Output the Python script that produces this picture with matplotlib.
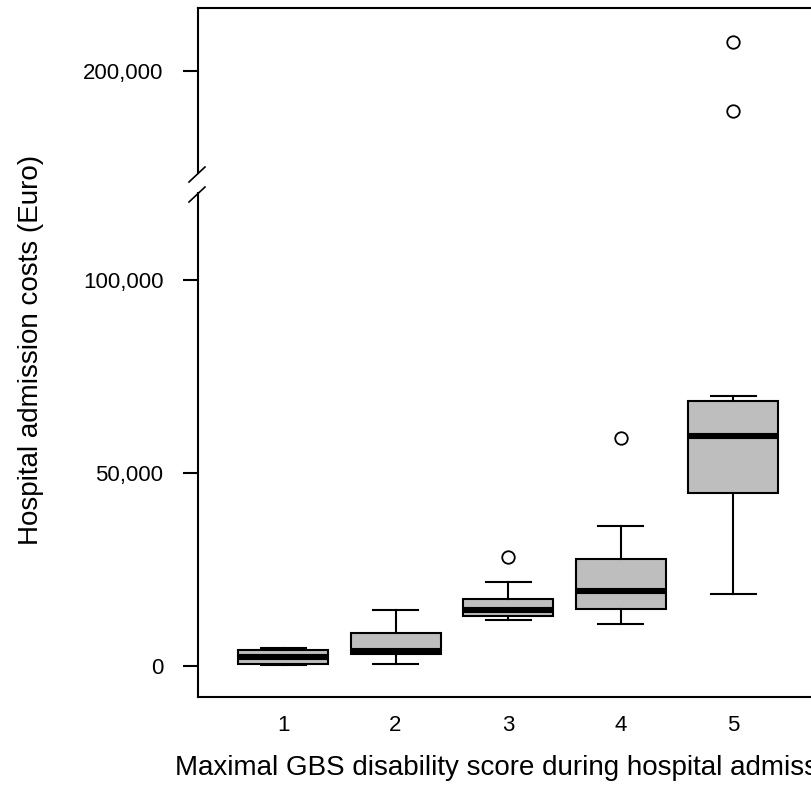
import matplotlib
matplotlib.use('Agg')
import matplotlib.pyplot as plt
from matplotlib.lines import Line2D

# ---- data (Euro) ----
categories = ['1', '2', '3', '4', '5']
whisker_low = [400, 500, 11900, 10900, 18700]
q1_vals = [500, 3200, 13100, 14900, 45000]
medians = [2300, 4000, 14600, 19600, 59600]
q3_vals = [4200, 8700, 17400, 27700, 68700]
whisker_high = [4700, 14600, 21800, 36400, 70000]
outliers = [[], [], [28200], [59100], [189700, 207500]]

lower_ticks = [0, 50000, 100000]
lower_ticklabels = ['0', '50,000', '100,000']
upper_ticks = [200000]
upper_ticklabels = ['200,000']

plt.rcParams['font.family'] = ['Liberation Sans', 'DejaVu Sans']

W, H = 812, 797
fig = plt.figure(figsize=(W / 100, H / 100), dpi=100)

def fx(px):
    return px / W

def fy(py):
    return (H - py) / H

ax_left = fx(198)
ax_width = fx(842) - fx(198)
split = 184
ax_bot = fig.add_axes([ax_left, fy(697), ax_width, fy(split) - fy(697)])
ax_top = fig.add_axes([ax_left, fy(split), ax_width, fy(8) - fy(split)])

stats = []
for i, c in enumerate(categories):
    stats.append(dict(label=c, whislo=whisker_low[i], q1=q1_vals[i], med=medians[i],
                      q3=q3_vals[i], whishi=whisker_high[i], fliers=outliers[i]))

positions = list(range(1, len(categories) + 1))
for ax in (ax_bot, ax_top):
    ax.bxp(stats, positions=positions, widths=0.8, capwidths=0.4, patch_artist=True,
           boxprops=dict(facecolor='#BEBEBE', edgecolor='black', linewidth=1.5),
           medianprops=dict(color='black', linewidth=4.4, solid_capstyle='butt'),
           whiskerprops=dict(color='black', linewidth=1.5, linestyle='-'),
           capprops=dict(color='black', linewidth=1.5),
           flierprops=dict(marker='o', markerfacecolor='none', markeredgecolor='black',
                           markersize=9, markeredgewidth=1.3))
    ax.set_xlim(0.244, 0.244 + (842 - 198) / 112.5)

# y scales (px per 1000 Euro = 3.86)
ax_bot.set_ylim(-7950, 124950)
ax_top.set_ylim(170700, 216300)

ax_bot.set_yticks(lower_ticks)
ax_bot.set_yticklabels(lower_ticklabels)
ax_top.set_yticks(upper_ticks)
ax_top.set_yticklabels(upper_ticklabels)

ax_bot.set_xticks(positions)
ax_bot.set_xticklabels(categories)
ax_top.set_xticks([])

for ax in (ax_bot, ax_top):
    for s in ax.spines.values():
        s.set_linewidth(1.5)
    ax.tick_params(axis='y', direction='out', length=10.8, width=1.5, pad=14,
                   labelsize=16, colors='black')
ax_bot.tick_params(axis='x', length=0, pad=13, labelsize=16)

ax_bot.spines['top'].set_visible(False)
ax_top.spines['bottom'].set_visible(False)
ax_top.spines['left'].set_bounds(173600, 216300)
ax_bot.spines['left'].set_bounds(-7950, 122600)

# break marks
for y0 in (182, 202):
    fig.add_artist(Line2D([fx(189), fx(205)], [fy(y0), fy(y0 - 15)],
                          transform=fig.transFigure, color='black', linewidth=1.2))

fig.text(fx(31), fy(350), 'Hospital admission costs (Euro)', rotation=90,
         ha='center', va='center', fontsize=20)
fig.text(fx(175), fy(775), 'Maximal GBS disability score during hospital admission',
         ha='left', va='baseline', fontsize=20)

fig.savefig('out.png', dpi=100)
